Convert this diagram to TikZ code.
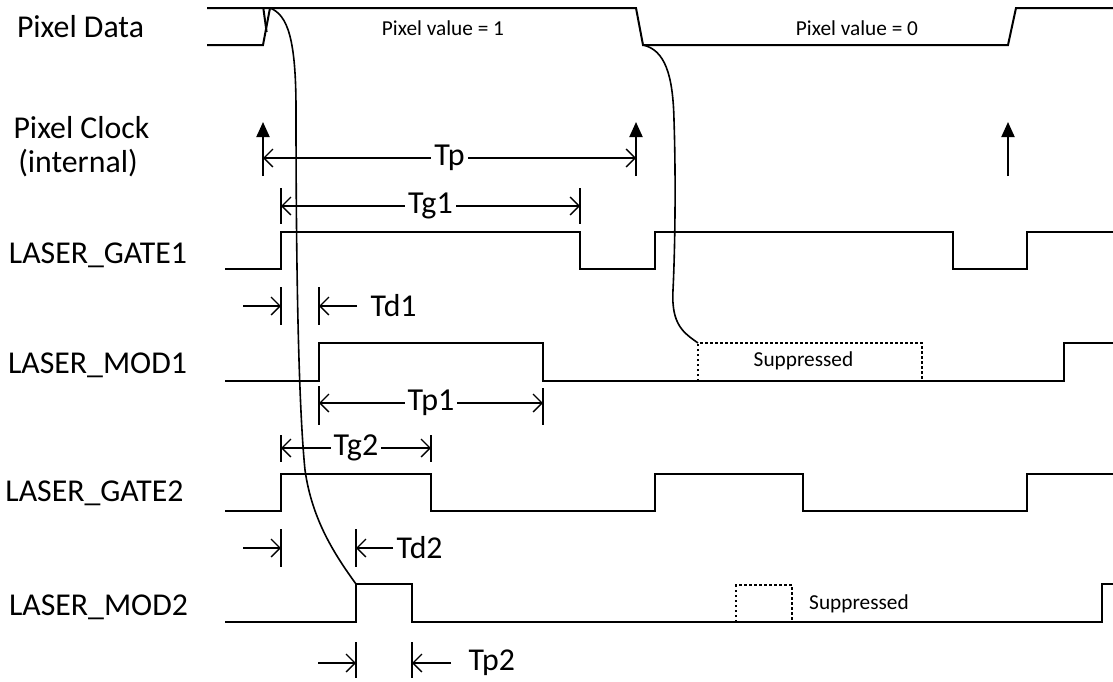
\documentclass[tikz,border=0pt]{standalone}
\usepackage{fontspec}
\setmainfont{Carlito}
\usetikzlibrary{arrows.meta}
\begin{document}
\begin{tikzpicture}
   [x=1pt, y=-1pt,
   sigline/.style={line width=2pt},
   skewline/.style={line width=1.6pt},
   extline/.style={line width=1.3pt},
   dimline/.style={line width=1.3pt,{Straight Barb[length=9pt,width=18pt]}-{Straight Barb[length=9pt,width=18pt]}},
   dimtick/.style={line width=1.3pt,-{Straight Barb[length=9pt,width=18pt]}},
   clockarrow/.style={line width=2pt,-{Triangle[length=15pt,width=13pt]}},
   dotbox/.style={line width=1.5pt,dash pattern=on 2.5pt off 2.5pt},
   lbl/.style={font=\fontsize{31.8}{36}\selectfont},
   dimlbl/.style={font=\fontsize{32}{36}\selectfont,fill=white,inner sep=3pt},
   smalllbl/.style={font=\fontsize{21.3}{24}\selectfont}]
    \useasboundingbox (0,0) rectangle (1113,681);
    \node[lbl] (pixdata) at (80.5,27) {Pixel Data};
    \node[lbl] (pixclk) at (81.5,128) {Pixel Clock};
    \node[lbl] (pixint) at (78,163) {(internal)};
    \node[lbl] (gateone) at (98,255) {LASER\_GATE1};
    \node[lbl] (modone) at (97.5,365) {LASER\_MOD1};
    \node[lbl] (gatetwo) at (94.5,493) {LASER\_GATE2};
    \node[lbl] (modtwo) at (98.5,607) {LASER\_MOD2};
    \node[smalllbl] (valone) at (443,28) {Pixel value = 1};
    \node[smalllbl] (valzero) at (857,28) {Pixel value = 0};
    \node[smalllbl] (supone) at (803.5,361) {Suppressed};
    \node[smalllbl] (suptwo) at (859,604) {Suppressed};
    \draw[sigline] (207,8) -- (636,8) -- (643,45) -- (1008,45) -- (1016,8) -- (1113,8);
    \draw[sigline] (207,45) -- (263,45) -- (270,8);
    \draw[sigline] (263.3,8) -- (266.6,32);
    \draw[clockarrow] (263,176) -- (263,122);
    \draw[clockarrow] (636,176) -- (636,122);
    \draw[clockarrow] (1008,176) -- (1008,122);
    \draw[sigline] (225,269) -- (281,269) -- (281,232) -- (580,232) -- (580,269) -- (655,269) -- (655,232) -- (953,232) -- (953,269) -- (1027,269) -- (1027,232) -- (1113,232);
    \draw[sigline] (225,381) -- (319,381) -- (319,343) -- (543,343) -- (543,381) -- (1064,381) -- (1064,343) -- (1113,343);
    \draw[dotbox] (698,381) -- (698,343) -- (922,343) -- (922,381);
    \draw[sigline] (225,511) -- (281,511) -- (281,474) -- (431,474) -- (431,511) -- (655,511) -- (655,474) -- (803,474) -- (803,511) -- (1027,511) -- (1027,474) -- (1113,474);
    \draw[sigline] (225,622) -- (356,622) -- (356,584) -- (412,584) -- (412,622) -- (1102,622) -- (1102,584) -- (1113,584);
    \draw[dotbox] (736,622) -- (736,585) -- (792,585) -- (792,622);
    \draw[skewline] (270,8) .. controls (288,15) and (296,40) .. (296,110) .. controls (296,250) and (298,400) .. (305,470) .. controls (312,520) and (335,555) .. (356,584);
    \draw[skewline] (643,45) .. controls (665,50) and (673,75) .. (674,120) .. controls (676,180) and (675,250) .. (673,290) .. controls (671,325) and (684,333) .. (698,343);
    \draw[dimline] (263,158) -- node[dimlbl] (tp) {Tp} (636,158);
    \draw[extline] (281,188) -- (281,224) (580,188) -- (580,224);
    \draw[dimline] (281,206) -- node[dimlbl] (tgone) {Tg1} (580,206);
    \draw[extline] (281,287) -- (281,325) (319,287) -- (319,325);
    \draw[dimtick] (243,306) -- (281,306);
    \draw[dimtick] (357,306) -- (319,306);
    \node[lbl, anchor=west] (tdone) at (367,306) {Td1};
    \draw[extline] (319,386) -- (319,425) (543,388) -- (543,425);
    \draw[dimline] (319,403) -- node[dimlbl] (tpone) {Tp1} (543,403);
    \draw[extline] (281,435) -- (281,462) (431,435) -- (431,462);
    \draw[dimline] (281,448) -- node[dimlbl] (tgtwo) {Tg2} (431,448);
    \draw[extline] (281,529) -- (281,567) (356,529) -- (356,567);
    \draw[dimtick] (243,548) -- (281,548);
    \draw[dimtick] (393,548) -- (356,548);
    \node[lbl, anchor=west] (tdtwo) at (393,548) {Td2};
    \draw[extline] (356,642) -- (356,678) (412,642) -- (412,678);
    \draw[dimtick] (318,663) -- (356,663);
    \draw[dimtick] (451,663) -- (412,663);
    \node[lbl, anchor=west] (tptwo) at (465,663) {Tp2};
\end{tikzpicture}
\end{document}
